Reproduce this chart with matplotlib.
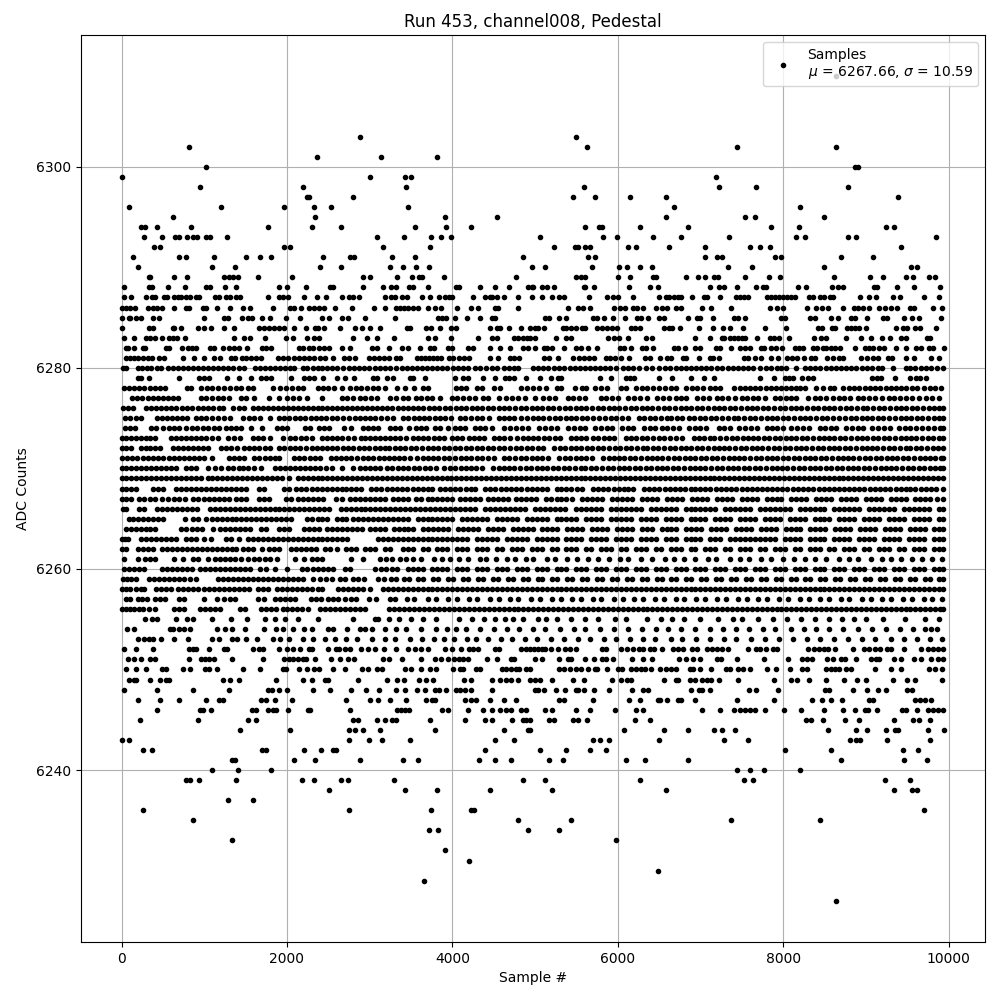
from matplotlib import pyplot as plt

# valores, una lista de muestras por cada nivel ADC
x_6309 = [8645]
x_6303 = [2885, 5490]
x_6302 = [810, 5625, 7440, 8640]
x_6301 = [2360, 3140, 3810]
x_6300 = [1020, 8870, 8905]
x_6299 = [0, 3000, 3430, 3505, 7185]
x_6298 = [945, 2195, 3440, 5590, 7220, 7670, 8785]
x_6297 = [2240, 2270, 2800, 5455, 5730, 6145, 6580, 9390]
x_6296 = [85, 1200, 1965, 2330, 2530, 3465, 6675, 8200]
x_6295 = [620, 2340, 3915, 4545, 6580, 7535, 7655, 8495]
x_6294 = [230, 280, 425, 835, 1770, 2300, 2655, 3550, 3925, 4230, 5610, 5770, 5805, 6265, 6845, 7850, 8190, 9245, 9340]
x_6293 = [267, 485, 650, 695, 790, 860, 915, 1025, 1065, 1270, 3090, 3420, 3745, 3865, 3990, 5065, 5820, 5990, 6425, 6760, 7340, 8155, 8260, 8785, 8880, 9850]
x_6292 = [390, 460, 1970, 2035, 3160, 3735, 5225, 5480, 5515, 5600, 5660, 6120, 6220, 6615, 7050, 7595, 7715, 7840, 9425]
x_6291 = [133, 700, 775, 1115, 1500, 1670, 1805, 2435, 2760, 2810, 3270, 3550, 4860, 5635, 5720, 7050, 7195, 7255, 7900, 7970, 8700, 9085]
x_6290 = [195, 1090, 1370, 2400, 2655, 3250, 3405, 3565, 3720, 4960, 5115, 5685, 6010, 6110, 6265, 6410, 7330, 7620, 8495, 9545, 9620]
x_6289 = [330, 350, 640, 790, 1235, 1305, 1345, 1405, 1650, 2060, 2925, 3005, 3330, 3515, 3600, 3635, 3905, 4765, 5500, 5550, 5600, 6000, 6145, 6425, 6460, 6830, 6965, 7060, 7160, 7210, 7535, 7825, 7960, 8615, 9050, 9210, 9485, 9570, 9765, 9840]
x_6288 = [35, 330, 365, 560, 765, 1025, 1065, 1250, 1380, 1900, 2000, 2230, 2520, 2560, 2925, 3160, 3260, 3320, 3480, 3530, 3710, 4050, 4085, 4340, 4510, 4690, 4920, 4960, 4980, 5080, 5140, 5235, 5590, 5610, 5710, 6135, 6385, 6485, 7110, 7230, 7290, 7440, 7670, 7755, 7790, 8180, 8275, 8590, 8660, 8725, 9100, 9135, 9380, 9585, 9900]
x_6287 = [35, 120, 290, 365, 410, 510, 545, 630, 680, 725, 775, 825, 900, 935, 1125, 1175, 1260, 1310, 1380, 1430, 1770, 1900, 1950, 2010, 2205, 2365, 2470, 2665, 2750, 2800, 2870, 3190, 3260, 3310, 3395, 3455, 3635, 3735, 3840, 3915, 3965, 4000, 4255, 4400, 4450, 4485, 4535, 4620, 4790, 4960, 5080, 5210, 5285, 5355, 5650, 5865, 5940, 6000, 6180, 6495, 6580, 6625, 6675, 6725, 6770, 6895, 7040, 7085, 7235, 7425, 7475, 7525, 7570, 7800, 7850, 7900, 7950, 7995, 8045, 8095, 8140, 8310, 8360, 8445, 8495, 8565, 8600, 8930, 9040, 9125, 9330, 9415, 9705, 9885]
x_6286 = [5, 55, 100, 160, 325, 375, 430, 485, 640, 785, 815, 980, 1025, 1150, 1310, 1465, 1555, 1830, 2035, 2085, 2175, 2270, 2330, 2385, 2450, 2580, 2790, 3055, 3190, 3320, 3370, 3420, 3465, 3530, 3590, 3710, 3795, 3865, 4060, 4220, 4315, 4520, 4555, 4800, 5395, 5515, 5575, 5660, 5950, 6025, 6085, 6180, 6230, 6305, 6460, 6540, 6590, 6700, 6770, 7015, 7125, 7365, 7840, 7925, 7995, 8285, 8395, 8470, 8540, 8725, 8855, 8905, 8965, 9040, 9160, 9230, 9305, 9380, 9535, 9585, 9815, 9925]
x_6285 = [0, 85, 105, 180, 230, 375, 450, 995, 1235, 1285, 1455, 1530, 1580, 1695, 1795, 1990, 2155, 2425, 2510, 2665, 2740, 2945, 3310, 3830, 3880, 3925, 4035, 4180, 4340, 4485, 4520, 5115, 5165, 5295, 5380, 5695, 5745, 5840, 5940, 6085, 6230, 6280, 6365, 6495, 6565, 6845, 6955, 7000, 7150, 7400, 7450, 7535, 7970, 8020, 8325, 8385, 8580, 8660, 8820, 8870, 9015, 9210, 9255, 9460, 9560, 9645, 9910]
x_6284 = [10, 330, 375, 620, 640, 715, 920, 995, 1080, 1235, 1355, 1660, 1720, 1780, 1840, 1900, 1965, 2085, 2230, 2340, 2375, 2450, 2640, 2825, 2910, 3005, 3125, 3455, 3490, 3685, 3745, 3855, 3990, 4050, 4460, 4535, 4580, 4680, 4825, 4945, 4995, 5040, 5105, 5335, 5380, 5430, 5490, 5565, 5610, 5755, 5805, 5865, 5925, 5990, 6155, 6205, 6265, 6565, 6615, 6660, 6750, 6980, 7150, 7270, 7355, 7510, 7780, 8030, 8420, 8470, 8590, 8625, 8770, 8820, 8870, 8915, 9000, 9365, 9450, 9500, 9595, 9655, 9850]
x_6283 = [25, 155, 300, 340, 400, 485, 580, 620, 665, 765, 1355, 1480, 1550, 1730, 1990, 2070, 2240, 2330, 2385, 2800, 2970, 3090, 3295, 3700, 3785, 3990, 4315, 4475, 4545, 4750, 4800, 4850, 4900, 4945, 4995, 5250, 5370, 5430, 5880, 5950, 6010, 6120, 6340, 6410, 6930, 7110, 7255, 7290, 7355, 7400, 7450, 7500, 7535, 7680, 7840, 7885, 7945, 8070, 8370, 8455, 8515, 8755, 8940, 9060, 9195, 9290, 9425, 9485, 9740, 9780]
x_6282 = [50, 75, 155, 255, 280, 535, 570, 730, 800, 850, 895, 1065, 1115, 1225, 1305, 1355, 1420, 1515, 1695, 1745, 1805, 2145, 2195, 2265, 2315, 2385, 2450, 2510, 2665, 2765, 3030, 3090, 3235, 3395, 3465, 3610, 3735, 3780, 3950, 4000, 4195, 4255, 4450, 4580, 4700, 4850, 4910, 5005, 5105, 5150, 5200, 5350, 5500, 5550, 5635, 5745, 6025, 6075, 6155, 6290, 6340, 6425, 6685, 6730, 6810, 6930, 6990, 7185, 7235, 7365, 7475, 7535, 7595, 7730, 7765, 7850, 7910, 7985, 8140, 8190, 8240, 8360, 8410, 8480, 8515, 8580, 8625, 8685, 8870, 8990, 9040, 9085, 9160, 9220, 9365, 9485, 9610, 9670, 9765, 9815, 9945]
x_6281 = [50, 105, 155, 205, 265, 325, 365, 450, 510, 740, 875, 995, 1115, 1190, 1320, 1370, 1455, 1505, 1560, 1625, 1685, 1890, 1950, 2010, 2085, 2145, 2205, 2265, 2330, 2400, 2460, 2555, 2690, 2750, 2825, 2995, 3055, 3115, 3175, 3235, 3320, 3370, 3575, 3625, 3675, 3720, 3770, 3820, 3865, 3965, 4010, 4075, 4145, 4205, 4455, 4555, 4700, 4750, 4810, 5105, 5175, 5275, 5465, 5530, 5590, 5650, 5710, 5855, 5905, 5965, 6035, 6135, 6330, 6390, 6515, 6590, 6650, 6795, 6830, 6980, 7110, 7150, 7220, 7525, 7570, 7655, 7730, 7850, 7935, 8045, 8105, 8165, 8250, 8335, 8385, 8530, 8600, 8675, 8725, 8940, 9015, 9085, 9145, 9270, 9315, 9485, 9585, 9790, 9885]
x_6280 = [15, 50, 195, 250, 305, 360, 430, 480, 560, 620, 680, 740, 800, 860, 920, 985, 1050, 1110, 1170, 1230, 1290, 1350, 1420, 1480, 1620, 1680, 1740, 1800, 1860, 1920, 1980, 2040, 2090, 2190, 2245, 2310, 2370, 2430, 2490, 2550, 2610, 2680, 2750, 2810, 2870, 2930, 2990, 3060, 3130, 3180, 3250, 3320, 3390, 3450, 3510, 3570, 3630, 3690, 3750, 3810, 3870, 3940, 4010, 4070, 4130, 4190, 4270, 4330, 4410, 4480, 4540, 4620, 4680, 4740, 4790, 4980, 5040, 5100, 5160, 5230, 5290, 5350, 5420, 5480, 5540, 5610, 5670, 5730, 5790, 5850, 5910, 5980, 6060, 6120, 6180, 6260, 6340, 6420, 6500, 6570, 6630, 6700, 6760, 6820, 6890, 6950, 7010, 7070, 7130, 7200, 7260, 7330, 7390, 7450, 7520, 7580, 7640, 7720, 7790, 7850, 7920, 7980, 8040, 8150, 8260, 8320, 8380, 8440, 8520, 8580, 8640, 8700, 8760, 8820, 8880, 8950, 9010, 9080, 9150, 9200, 9330, 9480, 9540, 9600, 9670, 9730, 9790, 9860, 9930]
x_6279 = [205, 240, 330, 700, 935, 995, 1055, 1270, 1420, 1565, 1685, 1745, 1805, 2050, 2205, 2265, 2330, 2435, 2605, 2700, 2810, 3040, 3090, 3210, 3285, 3490, 3530, 3675, 4035, 4135, 4195, 4375, 4520, 4640, 4690, 4740, 4885, 5055, 5190, 5275, 5320, 5780, 5915, 6095, 6145, 6195, 6500, 6660, 6880, 7040, 7170, 7715, 7885, 8020, 8070, 8115, 8225, 8300, 8360, 9075, 9135, 9185, 9355, 9535, 9610, 9655, 9730]
x_6278 = [30, 90, 150, 210, 270, 340, 400, 460, 520, 790, 840, 960, 1030, 1100, 1170, 1240, 1310, 1380, 1450, 1530, 1590, 1830, 1920, 1990, 2060, 2130, 2190, 2370, 2440, 2500, 2570, 2660, 2760, 2830, 2900, 2970, 3040, 3100, 3190, 3330, 3430, 3540, 3640, 3700, 4040, 4110, 4170, 4300, 4360, 4500, 4580, 4830, 4900, 4970, 5050, 5130, 5260, 5310, 5480, 5570, 5620, 5720, 5800, 5870, 6040, 6100, 6220, 6290, 6360, 6430, 6500, 6570, 6640, 6700, 6830, 6900, 6960, 7030, 7110, 7180, 7240, 7410, 7480, 7540, 7600, 7660, 7720, 7790, 7850, 7910, 7970, 8030, 8090, 8150, 8210, 8270, 8400, 8480, 8570, 8620, 8720, 8800, 8860, 8920, 8990, 9050, 9110, 9170, 9240, 9300, 9360, 9430, 9490, 9560, 9620, 9700, 9770, 9840, 9910]
x_6277 = [130, 190, 250, 320, 380, 440, 500, 560, 620, 680, 960, 1020, 1090, 1170, 1230, 1300, 1440, 1500, 1600, 1780, 1900, 2000, 2070, 2140, 2240, 2430, 2660, 2730, 2800, 2880, 2940, 3020, 3090, 3250, 3320, 3400, 3470, 3560, 3620, 3690, 3760, 3850, 4000, 4060, 4130, 4200, 4270, 4370, 4430, 4560, 4650, 4720, 4800, 4880, 5000, 5100, 5170, 5240, 5400, 5460, 5530, 5600, 5800, 5860, 5930, 6000, 6130, 6200, 6270, 6350, 6480, 6550, 6620, 6700, 6770, 6830, 6960, 7030, 7100, 7200, 7260, 7330, 7420, 7500, 7560, 7640, 7700, 7780, 7900, 7960, 8030, 8090, 8150, 8300, 8380, 8450, 8520, 8600, 8680, 8740, 8810, 8900, 8970, 9040, 9110, 9200, 9280, 9340, 9410, 9490, 9560, 9640, 9730, 9800, 9880]
x_6276 = [20, 80, 140, 300, 360, 420, 480, 540, 600, 660, 730, 790, 850, 920, 980, 1040, 1110, 1180, 1230, 1350, 1420, 1480, 1590, 1650, 1710, 1770, 1830, 1890, 1950, 2010, 2070, 2130, 2190, 2250, 2310, 2370, 2430, 2490, 2550, 2610, 2670, 2730, 2790, 2850, 2910, 2970, 3030, 3090, 3150, 3210, 3270, 3340, 3400, 3460, 3530, 3590, 3650, 3720, 3780, 3840, 3910, 3970, 4040, 4100, 4170, 4240, 4300, 4360, 4430, 4490, 4560, 4630, 4690, 4760, 4830, 4890, 4960, 5020, 5090, 5160, 5220, 5290, 5360, 5420, 5490, 5560, 5620, 5690, 5760, 5820, 5890, 5960, 6020, 6090, 6160, 6220, 6290, 6360, 6420, 6490, 6560, 6620, 6690, 6760, 6820, 6890, 6960, 7020, 7090, 7160, 7220, 7290, 7360, 7420, 7490, 7560, 7620, 7690, 7760, 7820, 7890, 7960, 8020, 8090, 8160, 8220, 8290, 8360, 8420, 8490, 8560, 8620, 8690, 8760, 8820, 8890, 8960, 9020, 9090, 9160, 9220, 9290, 9360, 9420, 9490, 9560, 9620, 9690, 9760, 9820, 9890, 9930]
x_6275 = [40, 100, 170, 230, 430, 490, 550, 610, 670, 730, 790, 900, 960, 1020, 1090, 1170, 1240, 1310, 1470, 1540, 1600, 1670, 1800, 1910, 1970, 2030, 2100, 2160, 2220, 2290, 2350, 2410, 2470, 2540, 2600, 2680, 2750, 2820, 2880, 2950, 3010, 3070, 3140, 3210, 3280, 3400, 3460, 3540, 3600, 3660, 3720, 3790, 3850, 3910, 3980, 4090, 4150, 4220, 4300, 4360, 4440, 4560, 4620, 4690, 4750, 4830, 4900, 4970, 5030, 5100, 5170, 5240, 5300, 5370, 5440, 5500, 5570, 5630, 5700, 5770, 5850, 5920, 5980, 6050, 6120, 6260, 6320, 6390, 6450, 6520, 6590, 6650, 6720, 6780, 6860, 6920, 7000, 7060, 7130, 7190, 7260, 7330, 7400, 7460, 7530, 7600, 7660, 7730, 7800, 7870, 7930, 8000, 8060, 8130, 8200, 8260, 8330, 8400, 8470, 8530, 8600, 8680, 8750, 8820, 8880, 8950, 9010, 9080, 9150, 9210, 9280, 9350, 9420, 9480, 9550, 9620, 9680, 9750, 9820, 9880, 9930]
x_6274 = [40, 100, 160, 360, 420, 500, 570, 640, 700, 780, 850, 910, 990, 1050, 1120, 1180, 1260, 1320, 1390, 1450, 1560, 1700, 1880, 1940, 2000, 2220, 2280, 2390, 2450, 2510, 2690, 2780, 2920, 2980, 3040, 3100, 3250, 3310, 3370, 3480, 3560, 3620, 3680, 3790, 3850, 3950, 4030, 4090, 4150, 4280, 4340, 4400, 4480, 4620, 4700, 4770, 4840, 4910, 5050, 5120, 5190, 5260, 5400, 5470, 5540, 5610, 5730, 5800, 5870, 5930, 6050, 6120, 6190, 6320, 6390, 6450, 6530, 6600, 6670, 6740, 6860, 6930, 7000, 7070, 7220, 7290, 7360, 7470, 7540, 7610, 7680, 7800, 7870, 7930, 8000, 8100, 8170, 8240, 8310, 8440, 8510, 8580, 8640, 8760, 8830, 8900, 8970, 9080, 9150, 9220, 9290, 9400, 9470, 9540, 9610, 9680, 9750, 9830, 9900, 9930]
x_6273 = [0, 50, 110, 170, 230, 290, 350, 410, 600, 660, 720, 780, 840, 900, 960, 1020, 1090, 1170, 1290, 1360, 1430, 1590, 1650, 1710, 1800, 1950, 2040, 2100, 2170, 2230, 2300, 2430, 2490, 2550, 2610, 2670, 2740, 2810, 2890, 2950, 3010, 3070, 3130, 3190, 3250, 3310, 3370, 3440, 3520, 3580, 3640, 3700, 3780, 3840, 3900, 4000, 4060, 4120, 4200, 4260, 4320, 4380, 4500, 4560, 4630, 4700, 4780, 4850, 4910, 4980, 5040, 5110, 5170, 5240, 5300, 5430, 5500, 5560, 5620, 5700, 5760, 5830, 5900, 5960, 6100, 6160, 6220, 6290, 6350, 6430, 6500, 6560, 6630, 6700, 6780, 6920, 6980, 7040, 7110, 7170, 7240, 7310, 7380, 7440, 7510, 7570, 7640, 7700, 7770, 7830, 7900, 7960, 8030, 8090, 8160, 8230, 8290, 8360, 8430, 8490, 8560, 8620, 8690, 8750, 8820, 8890, 8950, 9020, 9090, 9150, 9220, 9280, 9350, 9420, 9480, 9550, 9610, 9680, 9750, 9810, 9880, 9930]
x_6272 = [0, 60, 120, 230, 290, 350, 410, 470, 620, 680, 740, 800, 860, 920, 980, 1050, 1200, 1260, 1320, 1400, 1480, 1540, 1600, 1660, 1730, 1800, 1900, 1960, 2040, 2100, 2160, 2230, 2300, 2360, 2430, 2490, 2550, 2610, 2680, 2740, 2800, 2870, 2930, 2990, 3060, 3120, 3180, 3240, 3310, 3370, 3430, 3500, 3560, 3630, 3700, 3770, 3830, 3900, 3960, 4030, 4090, 4160, 4220, 4300, 4360, 4430, 4490, 4560, 4620, 4700, 4770, 4830, 4900, 4960, 5030, 5100, 5230, 5300, 5360, 5430, 5490, 5560, 5630, 5690, 5760, 5820, 5900, 5970, 6030, 6100, 6160, 6230, 6300, 6360, 6430, 6490, 6560, 6630, 6690, 6760, 6820, 6890, 6960, 7020, 7090, 7160, 7220, 7290, 7350, 7420, 7490, 7550, 7620, 7690, 7750, 7820, 7890, 7950, 8020, 8080, 8150, 8220, 8280, 8350, 8420, 8480, 8550, 8610, 8680, 8750, 8810, 8880, 8950, 9010, 9080, 9140, 9210, 9280, 9340, 9410, 9480, 9540, 9610, 9670, 9740, 9810, 9870, 9930]
x_6271 = [10, 70, 130, 190, 260, 320, 380, 440, 500, 570, 630, 690, 750, 820, 880, 940, 1000, 1100, 1300, 1360, 1420, 1480, 1600, 1660, 1730, 1790, 1860, 1900, 2090, 2150, 2210, 2280, 2340, 2400, 2530, 2590, 2650, 2720, 2780, 2850, 2920, 2980, 3040, 3110, 3170, 3230, 3290, 3360, 3420, 3490, 3570, 3640, 3700, 3770, 3830, 3900, 3960, 4030, 4100, 4170, 4230, 4300, 4360, 4430, 4500, 4630, 4690, 4760, 4830, 4890, 4960, 5020, 5090, 5160, 5290, 5360, 5420, 5490, 5560, 5620, 5690, 5820, 5890, 5950, 6020, 6080, 6150, 6210, 6280, 6350, 6410, 6480, 6540, 6610, 6680, 6740, 6810, 6870, 6940, 7010, 7070, 7140, 7200, 7270, 7340, 7400, 7470, 7530, 7600, 7670, 7730, 7800, 7860, 7930, 8000, 8060, 8130, 8190, 8260, 8330, 8390, 8460, 8520, 8590, 8660, 8720, 8790, 8850, 8920, 8990, 9050, 9120, 9180, 9250, 9320, 9380, 9450, 9510, 9580, 9650, 9710, 9780, 9840, 9910, 9930]
x_6270 = [0, 60, 120, 180, 240, 300, 360, 420, 480, 540, 600, 660, 780, 840, 900, 1050, 1130, 1200, 1290, 1350, 1420, 1470, 1530, 1600, 1690, 1850, 1920, 1980, 2040, 2100, 2160, 2220, 2280, 2340, 2400, 2470, 2540, 2660, 2800, 2880, 2950, 3010, 3070, 3130, 3210, 3270, 3340, 3400, 3470, 3540, 3600, 3670, 3730, 3800, 3900, 3970, 4030, 4100, 4160, 4230, 4290, 4360, 4490, 4560, 4620, 4690, 4750, 4820, 4890, 4950, 5020, 5080, 5150, 5220, 5280, 5350, 5410, 5480, 5550, 5610, 5680, 5740, 5810, 5880, 5940, 6010, 6070, 6140, 6210, 6270, 6340, 6400, 6470, 6540, 6600, 6670, 6730, 6800, 6870, 6930, 7000, 7060, 7130, 7200, 7260, 7330, 7390, 7460, 7530, 7590, 7660, 7720, 7790, 7860, 7920, 7990, 8050, 8120, 8190, 8250, 8320, 8380, 8450, 8520, 8580, 8650, 8710, 8780, 8850, 8910, 8980, 9040, 9110, 9180, 9240, 9310, 9370, 9440, 9510, 9570, 9640, 9700, 9770, 9840, 9900, 9930]
x_6269 = [0, 60, 120, 180, 240, 300, 360, 420, 480, 540, 600, 660, 720, 780, 840, 900, 960, 1040, 1100, 1160, 1220, 1280, 1340, 1400, 1460, 1520, 1580, 1640, 1700, 1760, 1820, 1880, 1940, 2030, 2130, 2190, 2250, 2310, 2370, 2430, 2490, 2550, 2610, 2670, 2730, 2790, 2850, 2910, 2970, 3030, 3090, 3150, 3210, 3270, 3330, 3390, 3450, 3510, 3570, 3630, 3690, 3750, 3810, 3870, 3930, 3990, 4050, 4110, 4170, 4230, 4290, 4350, 4410, 4470, 4530, 4590, 4650, 4710, 4770, 4830, 4890, 4950, 5010, 5070, 5130, 5190, 5250, 5310, 5370, 5430, 5490, 5550, 5610, 5670, 5730, 5790, 5850, 5910, 5970, 6030, 6090, 6150, 6210, 6270, 6330, 6390, 6450, 6510, 6570, 6630, 6690, 6750, 6810, 6870, 6930, 6990, 7050, 7110, 7170, 7230, 7290, 7350, 7410, 7470, 7530, 7590, 7650, 7710, 7770, 7830, 7890, 7950, 8010, 8070, 8130, 8190, 8250, 8310, 8370, 8430, 8490, 8550, 8610, 8670, 8730, 8790, 8850, 8910, 8970, 9030, 9090, 9150, 9210, 9270, 9330, 9390, 9450, 9510, 9570, 9630, 9690, 9750, 9810, 9870, 9930]
x_6268 = [5, 60, 120, 170, 380, 440, 500, 660, 720, 780, 840, 900, 960, 1020, 1080, 1140, 1200, 1260, 1320, 1380, 1440, 1500, 1660, 1720, 1960, 2020, 2110, 2170, 2230, 2300, 2360, 2420, 2480, 2540, 2600, 2660, 2720, 2780, 2840, 2900, 3020, 3080, 3140, 3210, 3270, 3330, 3390, 3450, 3520, 3580, 3640, 3700, 3760, 3850, 3910, 3970, 4030, 4090, 4160, 4220, 4280, 4400, 4460, 4520, 4590, 4650, 4710, 4770, 4830, 4900, 4960, 5020, 5080, 5140, 5260, 5320, 5380, 5440, 5510, 5570, 5700, 5760, 5820, 5880, 5950, 6010, 6070, 6130, 6190, 6320, 6380, 6440, 6500, 6570, 6630, 6690, 6750, 6810, 6880, 6940, 7000, 7060, 7120, 7190, 7250, 7310, 7370, 7430, 7500, 7560, 7620, 7680, 7740, 7810, 7870, 7930, 7990, 8050, 8120, 8180, 8240, 8300, 8360, 8430, 8490, 8550, 8610, 8670, 8740, 8800, 8860, 8920, 8980, 9050, 9110, 9170, 9230, 9290, 9360, 9420, 9480, 9540, 9600, 9670, 9730, 9790, 9850, 9930]
x_6267 = [0, 60, 120, 210, 270, 340, 400, 490, 560, 640, 700, 770, 860, 930, 1000, 1060, 1120, 1180, 1240, 1300, 1380, 1440, 1500, 1660, 1720, 1780, 1990, 2050, 2130, 2200, 2260, 2320, 2380, 2440, 2590, 2670, 2760, 2820, 2880, 2940, 3000, 3060, 3120, 3180, 3280, 3340, 3400, 3460, 3560, 3620, 3700, 3760, 3820, 3880, 3940, 4000, 4090, 4150, 4210, 4270, 4330, 4430, 4490, 4550, 4610, 4670, 4770, 4830, 4890, 4950, 5010, 5130, 5190, 5260, 5320, 5380, 5450, 5570, 5630, 5690, 5750, 5810, 5930, 5990, 6050, 6110, 6170, 6290, 6350, 6410, 6470, 6600, 6660, 6720, 6780, 6900, 6960, 7020, 7080, 7200, 7260, 7320, 7380, 7500, 7560, 7620, 7680, 7800, 7860, 7920, 7980, 8100, 8160, 8220, 8280, 8400, 8460, 8520, 8580, 8700, 8760, 8820, 8880, 9000, 9060, 9120, 9180, 9300, 9360, 9420, 9480, 9600, 9660, 9720, 9780, 9860, 9930]
x_6266 = [20, 60, 210, 270, 430, 490, 550, 610, 670, 730, 790, 850, 910, 1070, 1130, 1190, 1250, 1310, 1370, 1430, 1490, 1550, 1610, 1670, 1730, 1790, 1850, 1910, 1970, 2030, 2090, 2150, 2210, 2270, 2330, 2390, 2450, 2510, 2650, 2710, 2770, 2830, 2890, 2950, 3010, 3070, 3130, 3190, 3250, 3310, 3370, 3430, 3490, 3550, 3610, 3670, 3730, 3790, 3850, 3910, 3970, 4030, 4090, 4150, 4210, 4270, 4400, 4460, 4520, 4580, 4640, 4700, 4760, 4820, 4880, 5000, 5060, 5120, 5180, 5240, 5300, 5360, 5500, 5560, 5620, 5680, 5740, 5800, 5920, 5980, 6040, 6100, 6160, 6220, 6280, 6400, 6460, 6520, 6580, 6640, 6700, 6820, 6880, 6940, 7000, 7060, 7120, 7180, 7300, 7360, 7420, 7480, 7540, 7600, 7720, 7780, 7840, 7900, 7960, 8020, 8080, 8200, 8260, 8320, 8380, 8440, 8500, 8620, 8680, 8740, 8800, 8860, 8920, 9040, 9100, 9160, 9220, 9280, 9340, 9460, 9520, 9580, 9640, 9700, 9760, 9880, 9930]
x_6265 = [85, 140, 200, 260, 320, 380, 440, 500, 770, 860, 920, 1020, 1090, 1150, 1210, 1270, 1330, 1390, 1450, 1510, 1570, 1630, 1690, 1750, 1810, 1870, 1930, 1990, 2050, 2240, 2300, 2370, 2430, 2490, 2600, 2660, 2720, 2800, 2860, 2920, 2980, 3040, 3100, 3160, 3220, 3280, 3340, 3400, 3460, 3580, 3640, 3700, 3760, 3820, 3880, 3940, 4000, 4120, 4180, 4240, 4300, 4360, 4420, 4540, 4600, 4660, 4720, 4780, 4900, 4960, 5020, 5080, 5140, 5260, 5320, 5380, 5440, 5500, 5620, 5680, 5740, 5800, 5920, 5980, 6040, 6100, 6160, 6280, 6340, 6400, 6460, 6580, 6640, 6700, 6760, 6880, 6940, 7000, 7060, 7180, 7240, 7300, 7360, 7480, 7540, 7600, 7660, 7780, 7840, 7900, 7960, 8080, 8140, 8200, 8260, 8380, 8440, 8500, 8560, 8680, 8740, 8800, 8860, 8980, 9040, 9100, 9160, 9280, 9340, 9400, 9460, 9580, 9640, 9700, 9760, 9880, 9930]
x_6264 = [50, 110, 170, 230, 290, 350, 410, 720, 780, 850, 910, 970, 1110, 1190, 1250, 1310, 1370, 1430, 1490, 1550, 1690, 1750, 1910, 1970, 2030, 2210, 2270, 2330, 2390, 2490, 2550, 2610, 2670, 2730, 2790, 2850, 2910, 3010, 3070, 3130, 3190, 3290, 3350, 3410, 3470, 3530, 3650, 3710, 3770, 3830, 3890, 3950, 4070, 4130, 4190, 4250, 4310, 4430, 4490, 4550, 4610, 4730, 4790, 4850, 4910, 4970, 5090, 5150, 5210, 5270, 5390, 5450, 5510, 5570, 5690, 5750, 5810, 5870, 5990, 6050, 6110, 6170, 6290, 6350, 6410, 6530, 6590, 6650, 6710, 6830, 6890, 6950, 7010, 7130, 7190, 7250, 7310, 7430, 7490, 7550, 7610, 7730, 7790, 7850, 7910, 8030, 8090, 8150, 8210, 8330, 8390, 8450, 8510, 8630, 8690, 8750, 8810, 8930, 8990, 9050, 9110, 9230, 9290, 9350, 9410, 9530, 9590, 9650, 9710, 9830, 9890, 9930]
x_6263 = [0, 40, 80, 240, 300, 360, 420, 480, 540, 600, 660, 780, 840, 900, 1000, 1080, 1260, 1320, 1420, 1530, 1590, 1650, 1710, 1770, 1830, 1890, 1950, 2010, 2070, 2130, 2190, 2250, 2310, 2370, 2430, 2490, 2550, 2610, 2670, 2730, 3100, 3160, 3220, 3280, 3340, 3400, 3460, 3520, 3580, 3640, 3700, 3760, 3820, 3880, 3940, 4000, 4060, 4120, 4180, 4300, 4360, 4420, 4480, 4540, 4660, 4720, 4780, 4840, 4900, 5020, 5080, 5140, 5200, 5260, 5380, 5440, 5500, 5560, 5680, 5740, 5800, 5860, 5980, 6040, 6100, 6160, 6280, 6340, 6400, 6460, 6580, 6640, 6700, 6820, 6880, 6940, 7000, 7120, 7180, 7240, 7360, 7420, 7480, 7540, 7600, 7660, 7720, 7780, 7840, 7900, 8020, 8080, 8140, 8200, 8320, 8380, 8440, 8500, 8620, 8680, 8740, 8800, 8920, 8980, 9040, 9100, 9220, 9280, 9340, 9400, 9520, 9580, 9640, 9700, 9820, 9880, 9930]
x_6262 = [0, 50, 200, 260, 320, 380, 490, 550, 610, 670, 730, 790, 850, 910, 970, 1030, 1090, 1150, 1210, 1270, 1330, 1390, 1470, 1530, 1590, 1700, 1780, 1840, 1900, 2050, 2110, 2170, 2230, 2290, 2350, 2460, 2520, 2600, 2710, 2770, 2830, 2950, 3010, 3070, 3190, 3250, 3400, 3460, 3520, 3640, 3700, 3820, 3880, 3940, 4060, 4120, 4180, 4300, 4360, 4420, 4540, 4600, 4720, 4780, 4840, 4960, 5020, 5080, 5200, 5260, 5380, 5440, 5500, 5620, 5680, 5800, 5860, 5920, 6040, 6100, 6220, 6280, 6340, 6460, 6520, 6640, 6700, 6760, 6880, 6940, 7060, 7120, 7180, 7300, 7360, 7480, 7540, 7600, 7720, 7780, 7900, 7960, 8020, 8140, 8200, 8320, 8380, 8440, 8560, 8620, 8740, 8800, 8860, 8980, 9040, 9160, 9220, 9280, 9400, 9460, 9580, 9640, 9700, 9820, 9880, 9930]
x_6261 = [25, 195, 285, 340, 400, 630, 740, 860, 930, 1040, 1130, 1190, 1250, 1310, 1370, 1450, 1530, 1600, 1660, 1730, 1800, 1880, 2100, 2210, 2300, 2360, 2430, 2780, 2920, 3130, 3200, 3270, 3370, 3440, 3520, 3620, 3780, 3880, 3970, 4080, 4190, 4330, 4410, 4530, 4660, 4760, 4890, 4980, 5140, 5240, 5390, 5510, 5640, 5760, 5900, 6030, 6130, 6280, 6420, 6570, 6680, 6800, 6940, 7090, 7190, 7360, 7480, 7590, 7730, 7850, 8000, 8130, 8270, 8390, 8520, 8680, 8800, 8910, 9060, 9190, 9310, 9430, 9560, 9680, 9800, 9920]
x_6260 = [30, 90, 150, 210, 270, 490, 550, 610, 670, 730, 790, 850, 950, 1010, 1070, 1130, 1190, 1250, 1310, 1370, 1430, 1490, 1550, 1680, 1750, 1850, 2000, 2180, 2240, 2310, 2380, 2440, 2500, 2560, 2700, 2760, 3060, 3140, 3200, 3270, 3330, 3460, 3520, 3580, 3640, 3760, 3820, 3880, 3940, 4060, 4120, 4180, 4300, 4360, 4420, 4540, 4600, 4660, 4780, 4840, 4900, 5020, 5080, 5140, 5260, 5320, 5380, 5500, 5560, 5620, 5740, 5800, 5860, 5980, 6040, 6100, 6220, 6280, 6340, 6460, 6520, 6580, 6700, 6760, 6820, 6940, 7000, 7060, 7180, 7240, 7300, 7420, 7480, 7540, 7660, 7720, 7780, 7900, 7960, 8020, 8140, 8200, 8260, 8380, 8440, 8500, 8620, 8680, 8740, 8860, 8920, 8980, 9100, 9160, 9220, 9340, 9400, 9460, 9580, 9640, 9700, 9820, 9880, 9930]
x_6259 = [20, 70, 120, 170, 330, 390, 450, 510, 570, 630, 700, 760, 830, 900, 1170, 1230, 1290, 1350, 1410, 1470, 1530, 1590, 1650, 1710, 1770, 1830, 1890, 1950, 2010, 2070, 2130, 2190, 2320, 2400, 2470, 2550, 2640, 2700, 2800, 2860, 2930, 3100, 3170, 3260, 3320, 3420, 3480, 3590, 3650, 3770, 3830, 3950, 4010, 4130, 4190, 4310, 4370, 4490, 4550, 4670, 4730, 4850, 4910, 5030, 5090, 5210, 5270, 5390, 5450, 5570, 5630, 5750, 5810, 5930, 5990, 6110, 6170, 6290, 6350, 6470, 6530, 6650, 6710, 6830, 6890, 7010, 7070, 7190, 7250, 7370, 7430, 7550, 7610, 7730, 7790, 7910, 7970, 8090, 8150, 8270, 8330, 8450, 8510, 8630, 8690, 8810, 8870, 8990, 9050, 9170, 9230, 9350, 9410, 9530, 9590, 9710, 9770, 9890, 9930]
x_6258 = [0, 50, 100, 170, 230, 270, 420, 480, 540, 600, 680, 740, 800, 860, 930, 1000, 1060, 1120, 1180, 1240, 1300, 1360, 1420, 1480, 1540, 1650, 1710, 1770, 1880, 1940, 2000, 2060, 2120, 2180, 2240, 2300, 2370, 2430, 2620, 2680, 2740, 2800, 2860, 2920, 3000, 3160, 3220, 3280, 3340, 3400, 3460, 3520, 3580, 3640, 3700, 3760, 3820, 3880, 3940, 4000, 4060, 4120, 4180, 4240, 4300, 4360, 4420, 4480, 4540, 4600, 4660, 4720, 4780, 4840, 4900, 4960, 5020, 5080, 5140, 5200, 5260, 5320, 5380, 5440, 5500, 5560, 5620, 5680, 5740, 5800, 5860, 5920, 5980, 6040, 6100, 6160, 6220, 6280, 6340, 6400, 6460, 6520, 6580, 6640, 6700, 6760, 6820, 6880, 6940, 7000, 7060, 7120, 7180, 7240, 7300, 7360, 7420, 7480, 7540, 7600, 7660, 7720, 7780, 7840, 7900, 7960, 8020, 8080, 8140, 8200, 8260, 8320, 8380, 8440, 8500, 8560, 8620, 8680, 8740, 8800, 8860, 8920, 8980, 9040, 9100, 9160, 9220, 9280, 9340, 9400, 9460, 9520, 9580, 9640, 9700, 9760, 9820, 9880, 9930]
x_6257 = [60, 100, 200, 250, 310, 400, 460, 520, 690, 750, 1000, 1160, 1240, 1310, 1370, 1650, 1720, 1860, 1920, 1980, 2040, 2100, 2290, 2350, 2410, 2500, 2560, 2620, 2700, 2770, 2840, 2990, 3080, 3250, 3310, 3450, 3540, 3700, 3800, 3950, 4060, 4200, 4300, 4450, 4560, 4700, 4800, 4950, 5060, 5200, 5310, 5450, 5560, 5700, 5800, 5950, 6060, 6200, 6310, 6450, 6560, 6700, 6800, 6950, 7060, 7200, 7310, 7450, 7560, 7700, 7800, 7950, 8060, 8200, 8310, 8450, 8560, 8700, 8800, 8950, 9060, 9200, 9310, 9450, 9560, 9700, 9800, 9920]
x_6256 = [0, 50, 100, 150, 210, 260, 330, 400, 640, 700, 760, 950, 1010, 1070, 1130, 1190, 1430, 1490, 1690, 1750, 1810, 1870, 1950, 2000, 2060, 2120, 2180, 2260, 2400, 2460, 2520, 2580, 2640, 2700, 2760, 2820, 2880, 2940, 3240, 3300, 3360, 3420, 3480, 3540, 3600, 3660, 3720, 3780, 3840, 3900, 3960, 4020, 4080, 4140, 4200, 4260, 4320, 4380, 4440, 4500, 4560, 4620, 4680, 4740, 4800, 4860, 4920, 4980, 5040, 5100, 5160, 5220, 5280, 5340, 5400, 5460, 5520, 5580, 5640, 5700, 5760, 5820, 5880, 5940, 6000, 6060, 6120, 6180, 6240, 6300, 6360, 6420, 6480, 6540, 6600, 6660, 6720, 6780, 6840, 6900, 6960, 7020, 7080, 7140, 7200, 7260, 7320, 7380, 7440, 7500, 7560, 7620, 7680, 7740, 7800, 7860, 7920, 7980, 8040, 8100, 8160, 8220, 8280, 8340, 8400, 8460, 8520, 8580, 8640, 8700, 8760, 8820, 8880, 8940, 9000, 9060, 9120, 9180, 9240, 9300, 9360, 9420, 9480, 9540, 9600, 9660, 9720, 9780, 9840, 9900, 9930]
x_6255 = [280, 370, 430, 660, 790, 870, 1100, 1320, 1520, 1740, 1850, 1980, 2130, 2370, 2800, 3060, 3100, 3240, 3350, 3500, 3640, 3800, 4080, 4240, 4380, 4520, 4640, 4730, 4860, 5040, 5130, 5260, 5440, 5600, 5760, 5970, 6100, 6350, 6520, 6660, 6800, 6990, 7210, 7390, 7500, 7700, 7880, 8050, 8220, 8390, 8560, 8710, 8860, 9000, 9210, 9470, 9710, 9880]
x_6254 = [65, 150, 590, 620, 690, 760, 830, 1150, 1250, 1340, 1490, 1720, 1870, 1950, 2070, 2210, 2300, 2500, 2560, 2730, 2880, 2950, 3030, 3190, 3320, 3440, 3620, 3800, 3930, 4050, 4170, 4340, 4500, 4660, 4810, 4980, 5120, 5300, 5470, 5610, 5790, 5960, 6120, 6290, 6460, 6610, 6770, 6930, 7110, 7270, 7430, 7590, 7760, 7900, 8090, 8250, 8400, 8560, 8730, 8910, 9080, 9240, 9410, 9570, 9720, 9790, 9860]
x_6253 = [200, 270, 330, 380, 480, 640, 800, 1100, 1180, 1340, 1400, 1510, 1640, 1830, 1920, 2020, 2190, 2310, 2460, 2580, 2710, 2850, 3030, 3190, 3310, 3490, 3630, 3780, 3900, 4020, 4180, 4290, 4430, 4590, 4720, 4880, 5020, 5190, 5350, 5520, 5670, 5840, 5980, 6150, 6300, 6450, 6640, 6780, 6950, 7120, 7280, 7430, 7610, 7780, 7950, 8120, 8290, 8440, 8610, 8790, 8950, 9110, 9300, 9460, 9620, 9780, 9920]
x_6252 = [35, 170, 375, 810, 860, 895, 1055, 1235, 1270, 1590, 1660, 1710, 1900, 2000, 2075, 2155, 2265, 2300, 2495, 2595, 2630, 2700, 2765, 2895, 2980, 3065, 3175, 3320, 3465, 3550, 3625, 3710, 3915, 4000, 4110, 4205, 4255, 4305, 4520, 4570, 4835, 4885, 4935, 4985, 5030, 5080, 5125, 5190, 5275, 5360, 5420, 5490, 5805, 5855, 6035, 6110, 6180, 6255, 6305, 6385, 6435, 6530, 6665, 6725, 6785, 6895, 6955, 7075, 7135, 7195, 7255, 7330, 7570, 7670, 7715, 7790, 7875, 7925, 8300, 8370, 8430, 8495, 8540, 8625, 8845, 8975, 9040, 9110, 9170, 9255, 9305, 9460, 9670, 9755, 9815, 9875, 9935]
x_6251 = [75, 145, 230, 350, 410, 810, 955, 1005, 1055, 1115, 1335, 1710, 1965, 2025, 2070, 2135, 2195, 2230, 2345, 2535, 2640, 2740, 2810, 3165, 3235, 3395, 3625, 3795, 3865, 3950, 4025, 4075, 4135, 4195, 4425, 4545, 4705, 4750, 5005, 5090, 5285, 5395, 5430, 5610, 5710, 5805, 5855, 5940, 6170, 6305, 6410, 6735, 6820, 6905, 7000, 7195, 7245, 7440, 7765, 8055, 8225, 8285, 8345, 8530, 8600, 8700, 8745, 8880, 9060, 9125, 9160, 9340, 9425, 9585, 9670, 9790, 9875, 9935]
x_6250 = [50, 180, 290, 495, 535, 740, 825, 1005, 1055, 1150, 1465, 1670, 1950, 1990, 2145, 2240, 2330, 2385, 2555, 2700, 2910, 2980, 3090, 3150, 3430, 3505, 3625, 3735, 3805, 4010, 4095, 4135, 4290, 4340, 4605, 4655, 4705, 4765, 4810, 4885, 4945, 5295, 5345, 5420, 5490, 5550, 5635, 5720, 5755, 5865, 6000, 6050, 6155, 6220, 6280, 6330, 6400, 6510, 6580, 6640, 6700, 6870, 6915, 6990, 7125, 7305, 7355, 7450, 7510, 7595, 7800, 7910, 8080, 8225, 8285, 8515, 8580, 8625, 8675, 8760, 8820, 9110, 9305, 9425, 9765, 9840, 9925]
x_6249 = [95, 145, 180, 350, 460, 535, 580, 1225, 1310, 1420, 1865, 2195, 2300, 2460, 2495, 2860, 3210, 3330, 3420, 3600, 3685, 3770, 4145, 4230, 4475, 4580, 4655, 4705, 4790, 4945, 4995, 5055, 5210, 5465, 5590, 5925, 6035, 6110, 6155, 6555, 6700, 6725, 6870, 6940, 7015, 7075, 7125, 7220, 7450, 7885, 8095, 8165, 8310, 8515, 8735, 8895, 9000, 9330, 9500, 9595, 9925]
x_6248 = [25, 435, 860, 1295, 1770, 1820, 1905, 2000, 2315, 2520, 2775, 2960, 3115, 3320, 3430, 3575, 3675, 3795, 3840, 3925, 4050, 4095, 4155, 4230, 4485, 4995, 5040, 5105, 5250, 5360, 5490, 5525, 5590, 5710, 5900, 6170, 6305, 6365, 6880, 6980, 7025, 7110, 7585, 7670, 7935, 8505, 8555, 8845, 9015, 9150, 9245, 9500, 9560]
x_6247 = [195, 460, 690, 1020, 1175, 1225, 1685, 1745, 1855, 2060, 2715, 3005, 3100, 3250, 3440, 3685, 3760, 3785, 4155, 4220, 4290, 4450, 4630, 4775, 5285, 5355, 5695, 6135, 6265, 6485, 6515, 6590, 6725, 6760, 6930, 7440, 7885, 8345, 8470, 8580, 8710, 9040, 9085, 9595, 9655, 9715, 9790]
x_6246 = [435, 945, 980, 1080, 1575, 1625, 1770, 1830, 1865, 2010, 2255, 2280, 2765, 3330, 3380, 3430, 3480, 3880, 3950, 4195, 4365, 4485, 4580, 4655, 4705, 4825, 4895, 5125, 5210, 5490, 5660, 5965, 6220, 6300, 7025, 7235, 7400, 7475, 7545, 7595, 7655, 7780, 8010, 8215, 8495, 8725, 8870, 8990, 9025, 9135, 9440, 9485, 9620, 9755, 9815, 9875, 9935]
x_6245 = [220, 920, 1525, 1625, 2800, 2860, 3090, 3190, 3275, 3320, 3735, 4155, 4390, 4475, 4725, 4850, 4895, 4935, 5165, 5235, 5455, 5515, 5625, 6205, 6385, 8275, 8335, 8480, 8745, 8915, 9340, 9570, 9645, 9780]
x_6244 = [1430, 2035, 2750, 2825, 2920, 3125, 3795, 4620, 4910, 4945, 6070, 6555, 6845, 7160, 7255, 7415, 8540, 8880, 9015, 9245, 9355, 9390, 9755, 9945]
x_6243 = [10, 95, 2750, 2995, 3150, 3490, 4510, 4740, 5695, 5780, 5890, 6495, 7280, 7570, 8810, 8880, 8930, 9255, 9780]
x_6242 = [265, 365, 1695, 1745, 2205, 2410, 2555, 2595, 4400, 5065, 5370, 5660, 5855, 8020, 8580, 9450, 9630]
x_6241 = [1335, 1370, 2085, 2340, 2885, 3405, 3590, 4325, 4520, 4715, 5165, 5335, 6095, 6325, 6855, 8700, 9460, 9740]
x_6240 = [1090, 1405, 1805, 7440, 7595, 7765, 8200]
x_6239 = [775, 825, 935, 1380, 2180, 2325, 2655, 2740, 3295, 4860, 5115, 6265, 7525, 7630, 9230, 9535]
x_6238 = [2510, 3425, 3820, 4450, 5210, 6580, 9340, 9560, 9620]
x_6237 = [1285, 1590]
x_6236 = [265, 2750, 3745, 4230, 4265, 9705]
x_6235 = [860, 4790, 5430, 7365, 8445]
x_6234 = [3720, 3830, 4910, 5285]
x_6233 = [1335, 5975]
x_6232 = [3915]
x_6231 = [4205]
x_6230 = [6485]
x_6229 = [3660]
x_6227 = [8640]

niveles = [6309, 6303, 6302, 6301, 6300, 6299, 6298, 6297, 6296, 6295, 6294, 6293, 6292, 6291, 6290, 6289, 6288, 6287, 6286, 6285, 6284, 6283, 6282, 6281, 6280, 6279, 6278, 6277, 6276, 6275, 6274, 6273, 6272, 6271, 6270, 6269, 6268, 6267, 6266, 6265, 6264, 6263, 6262, 6261, 6260, 6259, 6258, 6257, 6256, 6255, 6254, 6253, 6252, 6251, 6250, 6249, 6248, 6247, 6246, 6245, 6244, 6243, 6242, 6241, 6240, 6239, 6238, 6237, 6236, 6235, 6234, 6233, 6232, 6231, 6230, 6229, 6227]
muestras = [x_6309, x_6303, x_6302, x_6301, x_6300, x_6299, x_6298, x_6297, x_6296, x_6295, x_6294, x_6293, x_6292, x_6291, x_6290, x_6289, x_6288, x_6287, x_6286, x_6285, x_6284, x_6283, x_6282, x_6281, x_6280, x_6279, x_6278, x_6277, x_6276, x_6275, x_6274, x_6273, x_6272, x_6271, x_6270, x_6269, x_6268, x_6267, x_6266, x_6265, x_6264, x_6263, x_6262, x_6261, x_6260, x_6259, x_6258, x_6257, x_6256, x_6255, x_6254, x_6253, x_6252, x_6251, x_6250, x_6249, x_6248, x_6247, x_6246, x_6245, x_6244, x_6243, x_6242, x_6241, x_6240, x_6239, x_6238, x_6237, x_6236, x_6235, x_6234, x_6233, x_6232, x_6231, x_6230, x_6229, x_6227]

xs = []
ys = []
for nivel, fila in zip(niveles, muestras):
    for s in fila:
        xs.append(s)
        ys.append(nivel)

plt.figure(figsize=(10, 10), dpi=100)
plt.plot(xs, ys, '.', color='black', label="Samples\n$\\mu$ = 6267.66, $\\sigma$ = 10.59")
plt.title("Run 453, channel008, Pedestal")
plt.xlabel("Sample #")
plt.ylabel("ADC Counts")
plt.xlim(-490, 10441)
plt.ylim(6222.9, 6313.1)
plt.xticks([0, 2000, 4000, 6000, 8000, 10000])
plt.yticks([6240, 6260, 6280, 6300])
plt.legend(loc='upper right')
plt.grid(True)
plt.subplots_adjust(left=0.081, right=0.985, top=0.965, bottom=0.058)
plt.savefig("out.png")
